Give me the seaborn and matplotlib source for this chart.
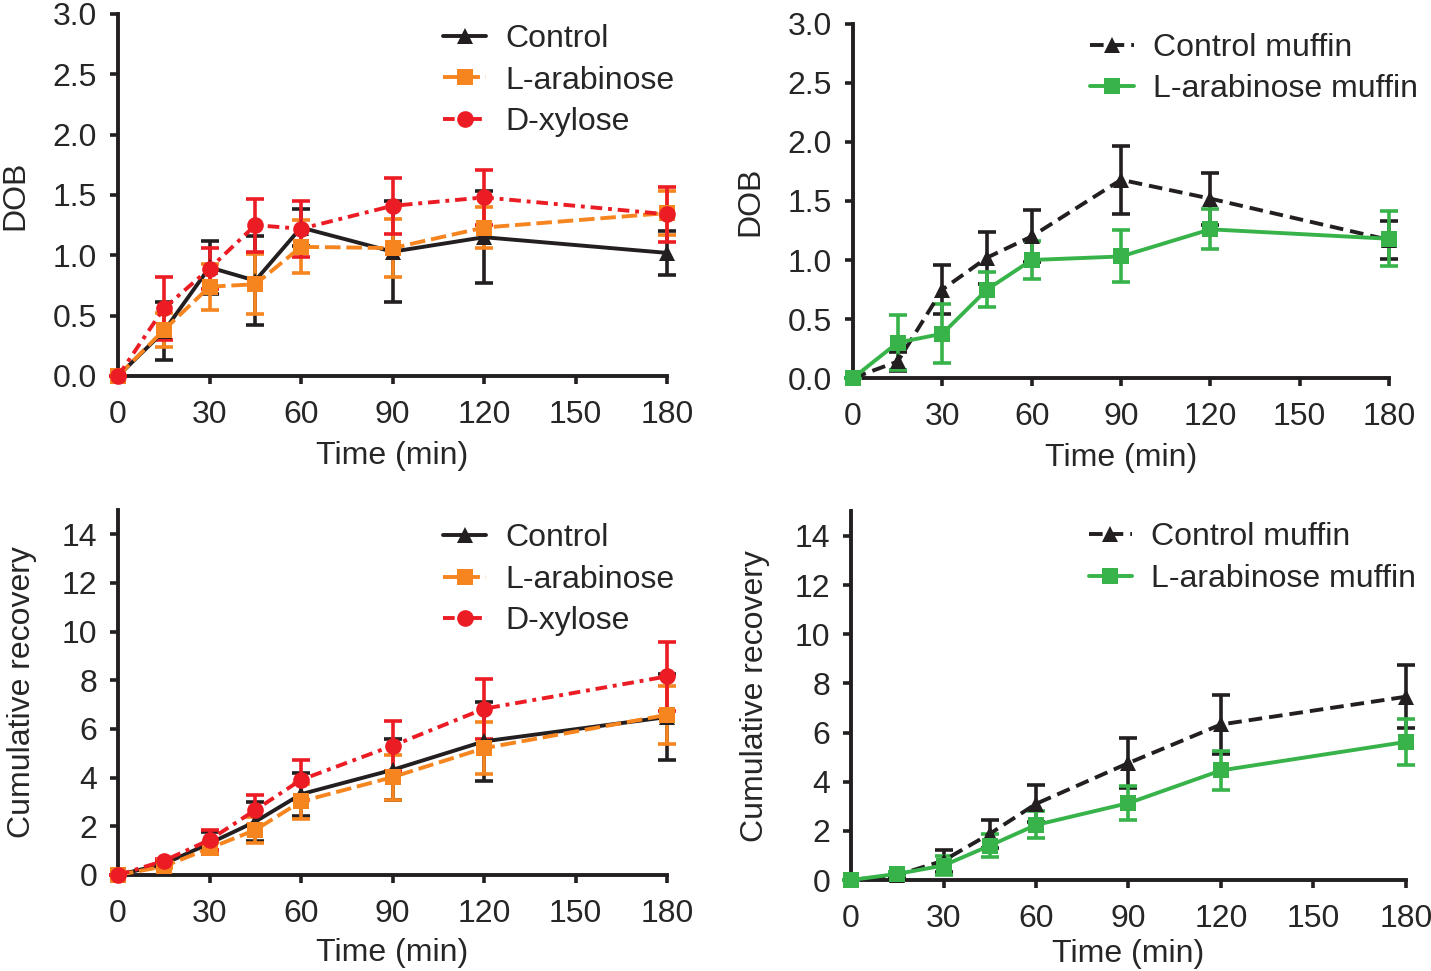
import numpy as np
import matplotlib
matplotlib.use("Agg")
import matplotlib.pyplot as plt
import seaborn as sns

# time points (min)
time = [0, 15, 30, 45, 60, 90, 120, 180]

# DOB, sugar solutions
dob_control = [0, 0.37, 0.90, 0.79, 1.23, 1.03, 1.15, 1.02]
dob_control_sd = [0, 0.24, 0.22, 0.37, 0.15, 0.42, 0.38, 0.18]
dob_arab = [0, 0.38, 0.74, 0.76, 1.07, 1.06, 1.23, 1.35]
dob_arab_sd = [0, 0.14, 0.19, 0.25, 0.22, 0.24, 0.17, 0.18]
dob_xyl = [0, 0.56, 0.89, 1.25, 1.22, 1.41, 1.48, 1.34]
dob_xyl_sd = [0, 0.26, 0.17, 0.22, 0.23, 0.23, 0.23, 0.23]

# DOB, muffins
dob_cm = [0, 0.14, 0.75, 1.02, 1.20, 1.68, 1.52, 1.17]
dob_cm_sd = [0, 0.08, 0.21, 0.22, 0.22, 0.29, 0.22, 0.16]
dob_am = [0, 0.30, 0.375, 0.75, 1.00, 1.03, 1.26, 1.18]
dob_am_sd = [0, 0.23, 0.25, 0.15, 0.16, 0.22, 0.17, 0.235]

# cumulative recovery, sugar solutions
cr_control = [0, 0.45, 1.30, 2.19, 3.32, 4.32, 5.49, 6.49]
cr_control_sd = [0, 0.10, 0.45, 0.79, 0.88, 1.25, 1.62, 1.76]
cr_arab = [0, 0.35, 1.10, 1.85, 3.02, 4.02, 5.21, 6.58]
cr_arab_sd = [0, 0.08, 0.22, 0.55, 0.70, 0.93, 1.08, 1.18]
cr_xyl = [0, 0.58, 1.44, 2.67, 3.91, 5.31, 6.83, 8.16]
cr_xyl_sd = [0, 0.08, 0.40, 0.62, 0.83, 1.02, 1.23, 1.43]

# cumulative recovery, muffins
cr_cm = [0, 0.20, 0.79, 1.88, 3.10, 4.76, 6.33, 7.46]
cr_cm_sd = [0, 0.08, 0.45, 0.58, 0.75, 1.02, 1.19, 1.28]
cr_am = [0, 0.25, 0.59, 1.40, 2.24, 3.13, 4.46, 5.62]
cr_am_sd = [0, 0.06, 0.38, 0.48, 0.55, 0.70, 0.79, 0.93]

BLACK = "#231f20"
ORANGE = "#f6851f"
RED = "#ec1c24"
GREEN = "#37b34a"
FS = 23

sns.set_style("ticks")
plt.rcParams["font.family"] = ["Liberation Sans", "DejaVu Sans"]
plt.rcParams["font.size"] = FS

fig = plt.figure(figsize=(14.31, 9.71), dpi=100)
ax_tl = fig.add_axes([0.0825, 0.6128, 0.3836, 0.3728])
ax_tr = fig.add_axes([0.5961, 0.6107, 0.3746, 0.3646])
ax_bl = fig.add_axes([0.0825, 0.0989, 0.3836, 0.3759])
ax_br = fig.add_axes([0.5947, 0.0937, 0.3878, 0.3796])

styles = {
    "Control": dict(color=BLACK, ls="-", marker="^", ms=11),
    "L-arabinose": dict(color=ORANGE, ls=(0, (4, 1.5)), marker="s", ms=11),
    "D-xylose": dict(color=RED, ls=(0, (3, 1.5, 1, 1.5)), marker="o", ms=12),
    "Control muffin": dict(color=BLACK, ls=(0, (3.5, 1.8)), marker="^", ms=11),
    "L-arabinose muffin": dict(color=GREEN, ls="-", marker="s", ms=11),
}


def draw(ax, name, y, sd):
    st = styles[name]
    ax.errorbar(time, y, yerr=sd, color=st["color"], ecolor=st["color"],
                elinewidth=2.6, capsize=6.5, capthick=2.6, ls="none",
                clip_on=False, zorder=3)
    sns.lineplot(x=time, y=y, ax=ax, color=st["color"], linestyle=st["ls"],
                 marker=st["marker"], markersize=st["ms"], markeredgewidth=0,
                 linewidth=2.8, label=name, clip_on=False, zorder=4)


draw(ax_tl, "Control", dob_control, dob_control_sd)
draw(ax_tl, "L-arabinose", dob_arab, dob_arab_sd)
draw(ax_tl, "D-xylose", dob_xyl, dob_xyl_sd)

draw(ax_tr, "Control muffin", dob_cm, dob_cm_sd)
draw(ax_tr, "L-arabinose muffin", dob_am, dob_am_sd)

draw(ax_bl, "Control", cr_control, cr_control_sd)
draw(ax_bl, "L-arabinose", cr_arab, cr_arab_sd)
draw(ax_bl, "D-xylose", cr_xyl, cr_xyl_sd)

draw(ax_br, "Control muffin", cr_cm, cr_cm_sd)
draw(ax_br, "L-arabinose muffin", cr_am, cr_am_sd)

for ax in [ax_tl, ax_tr, ax_bl, ax_br]:
    ax.set_xlim(0, 180)
    ax.set_xticks([0, 30, 60, 90, 120, 150, 180])
    sns.despine(ax=ax)
    for sp in ["left", "bottom"]:
        ax.spines[sp].set_linewidth(2.8)
        ax.spines[sp].set_color(BLACK)
    ax.tick_params(width=2.6, length=6, color=BLACK, labelsize=FS)
    ax.tick_params(axis="x", pad=11)
    ax.tick_params(axis="y", pad=9)
    ax.set_facecolor("white")

ax_tl.set_xlabel("Time (min)", fontsize=FS, labelpad=8)
ax_tr.set_xlabel("Time (min)", fontsize=FS, labelpad=8)
ax_bl.set_xlabel("Time (min)", fontsize=FS, labelpad=7)
ax_br.set_xlabel("Time (min)", fontsize=FS, labelpad=4)

for ax in [ax_tl, ax_tr]:
    ax.set_ylim(0, 3.0)
    ax.set_yticks(np.arange(0, 3.01, 0.5))
    ax.set_yticklabels([f"{v:.1f}" for v in np.arange(0, 3.01, 0.5)])
    ax.set_ylabel("DOB", fontsize=FS, labelpad=16)

for ax in [ax_bl, ax_br]:
    ax.set_ylim(0, 15)
    ax.set_yticks(range(0, 15, 2))
    ax.set_ylabel("Cumulative recovery", fontsize=FS, labelpad=18)

leg_kw = dict(frameon=False, fontsize=FS, handlelength=1.35, handletextpad=0.6,
              labelspacing=0.36, borderpad=0, borderaxespad=0, loc="upper left")
ax_tl.legend(bbox_to_anchor=(0.592, 0.972), **leg_kw)
ax_tr.legend(bbox_to_anchor=(0.443, 0.975), **leg_kw)
ax_bl.legend(bbox_to_anchor=(0.592, 0.963), **leg_kw)
ax_br.legend(bbox_to_anchor=(0.428, 0.97), **leg_kw)

fig.savefig("out.png", dpi=100, facecolor="white")
